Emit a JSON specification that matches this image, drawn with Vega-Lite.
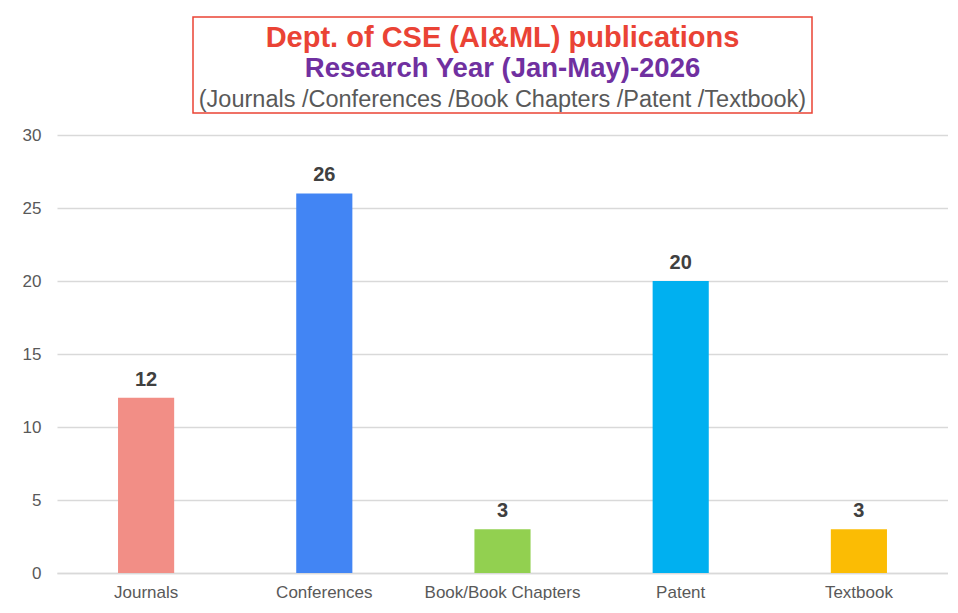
{
  "$schema": "https://vega.github.io/schema/vega-lite/v6.json",
  "padding": {"left": 22, "top": 16, "right": 0, "bottom": 0},
  "background": "#FFFFFF",
  "bounds": "flush",
  "center": true,
  "spacing": 22,
  "resolve": {"scale": {"color": "independent"}},
  "config": {
    "font": "Liberation Sans",
    "view": {"stroke": null}
  },
  "datasets": {
    "pubs": [
      {"category": "Journals", "count": 12},
      {"category": "Conferences", "count": 26},
      {"category": "Book/Book Chapters", "count": 3},
      {"category": "Patent", "count": 20},
      {"category": "Textbook", "count": 3}
    ],
    "titleLines": [
      {"row": 1, "line": "Dept. of CSE (AI&ML) publications"},
      {"row": 2, "line": "Research Year (Jan-May)-2026"},
      {"row": 3, "line": "(Journals /Conferences /Book Chapters /Patent /Textbook)"}
    ]
  },
  "vconcat": [
    {
      "width": 619,
      "height": 96,
      "view": {"stroke": "#EA4335", "strokeWidth": 1.5, "fill": "#FFFFFF"},
      "data": {"name": "titleLines"},
      "encoding": {
        "y": {"field": "row", "type": "ordinal", "axis": null, "scale": {"type": "point", "padding": 0.55, "align": 0.62}},
        "text": {"field": "line"},
        "color": {"field": "row", "type": "ordinal", "legend": null,
          "scale": {"domain": [1, 2, 3], "range": ["#EA4335", "#7030A0", "#595959"]}}
      },
      "layer": [
        {"transform": [{"filter": "datum.row == 1"}], "mark": {"type": "text", "fontWeight": "bold", "fontSize": 29, "baseline": "middle", "align": "center"}},
        {"transform": [{"filter": "datum.row == 2"}], "mark": {"type": "text", "fontWeight": "bold", "fontSize": 27.5, "baseline": "middle", "align": "center"}},
        {"transform": [{"filter": "datum.row == 3"}], "mark": {"type": "text", "fontWeight": "normal", "fontSize": 23.5, "baseline": "middle", "align": "center"}}
      ]
    },
    {
      "width": 891,
      "height": 438,
      "data": {"name": "pubs"},
      "encoding": {
        "x": {"field": "category", "type": "nominal", "sort": null,
          "scale": {"paddingInner": 0.685, "paddingOuter": 0.3425},
          "axis": {"title": null, "labelAngle": 0, "labelFontSize": 17, "labelColor": "#595959", "ticks": false,
            "domainColor": "#D9D9D9", "domainWidth": 1.5, "labelPadding": 11}},
        "y": {"field": "count", "type": "quantitative",
          "scale": {"domain": [0, 30], "nice": false},
          "axis": {"title": null, "values": [0, 5, 10, 15, 20, 25, 30], "labelFontSize": 17, "labelColor": "#595959",
            "ticks": false, "domain": false, "gridColor": "#D9D9D9", "gridWidth": 1.5, "labelPadding": 16}}
      },
      "layer": [
        {"mark": {"type": "bar"},
          "encoding": {"color": {"field": "category", "type": "nominal", "legend": null,
            "scale": {"domain": ["Journals", "Conferences", "Book/Book Chapters", "Patent", "Textbook"],
              "range": ["#F28E86", "#4285F4", "#92D050", "#00B0F0", "#FBBC04"]}}}},
        {"mark": {"type": "text", "fontWeight": "bold", "fontSize": 20, "color": "#404040", "baseline": "alphabetic", "dy": -12},
          "encoding": {"text": {"field": "count", "type": "quantitative"}}}
      ]
    }
  ]
}
